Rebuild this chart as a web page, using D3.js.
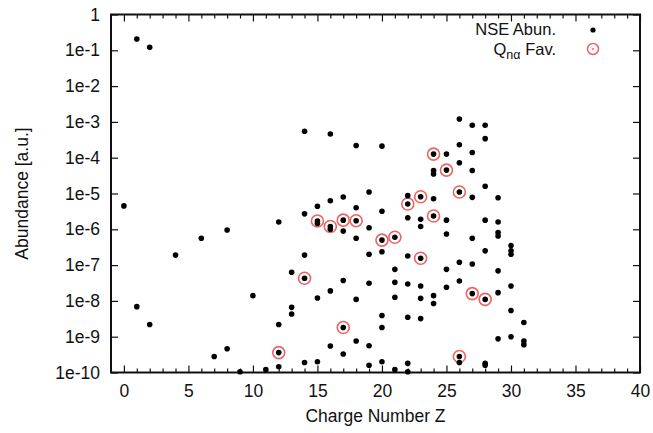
<!DOCTYPE html>
<html>
<head>
<meta charset="utf-8">
<script src="https://cdn.jsdelivr.net/npm/d3@7"></script>
<style>
  html, body { margin: 0; padding: 0; background: #fff; }
  text { font-family: "Liberation Sans", Arial, Helvetica, sans-serif; fill: #111; }
</style>
</head>
<body>
<svg id="chart" width="653" height="433"></svg>
<script>
// ---- Data ----
const nseZ = [
  0,
  1, 1,
  2, 2,
  4,
  6,
  7,
  8, 8,
  9,
  10,
  11,
  12, 12, 12, 12,
  13, 13, 13,
  14, 14, 14, 14, 14,
  15, 15, 15, 15, 15,
  16, 16, 16, 16, 16, 16,
  17, 17, 17, 17, 17, 17,
  18, 18, 18, 18, 18, 18,
  19, 19, 19, 19, 19, 19,
  20, 20, 20, 20, 20, 20, 20,
  21, 21, 21, 21, 21,
  22, 22, 22, 22, 22, 22, 22, 22,
  23, 23, 23, 23, 23, 23, 23,
  24, 24, 24, 24, 24, 24, 24,
  25, 25, 25, 25, 25, 25,
  26, 26, 26, 26, 26, 26, 26, 26,
  27, 27, 27, 27, 27, 27, 27,
  28, 28, 28, 28, 28, 28, 28, 28,
  29, 29, 29, 29, 29, 29, 29,
  30, 30, 30, 30, 30, 30,
  31, 31, 31
];
const nseAbun = [
  4.5e-6,
  0.207, 6.9e-9,
  0.121, 2.2e-9,
  1.9e-7,
  5.6e-7,
  2.8e-10,
  9.6e-7, 4.6e-10,
  1.05e-10,
  1.4e-8,
  1.2e-10,
  1.6e-6, 2.2e-9, 3.6e-10, 1.45e-10,
  6.3e-8, 6.6e-9, 4.3e-9,
  5.5e-4, 2.7e-6, 1.9e-7, 4.3e-8, 1.9e-10,
  4.4e-6, 1.7e-6, 1.45e-6, 1.2e-8, 2.0e-10,
  4.6e-4, 6.3e-6, 1.2e-6, 1.0e-6, 1.9e-8, 5.5e-10,
  8.0e-6, 1.8e-6, 8.9e-7, 3.7e-8, 1.8e-9, 3.3e-10,
  2.2e-4, 4.0e-6, 1.74e-6, 5.6e-7, 1.1e-8, 7.6e-10,
  1.1e-5, 1.1e-6, 2.0e-7, 3.1e-8, 5.6e-10, 1.6e-10,
  2.1e-4, 3.2e-6, 5.0e-7, 2.35e-7, 3.9e-9, 1.8e-9, 2.0e-10,
  6.0e-7, 7.6e-8, 3.3e-8, 1.26e-8, 1.2e-10,
  8.7e-6, 5.1e-6, 2.1e-6, 1.8e-7, 2.96e-8, 3.5e-9, 1.8e-10, 1.05e-10,
  8.1e-6, 1.9e-6, 1.2e-6, 1.55e-7, 2.6e-8, 1.18e-8, 3.2e-9,
  1.26e-4, 4.4e-5, 3.5e-5, 7.1e-6, 2.35e-6, 1.4e-8, 8.5e-9,
  1.26e-4, 4.5e-5, 1.8e-6, 7.4e-7, 7.6e-8, 2.4e-8,
  1.2e-3, 2.3e-4, 7.2e-5, 1.1e-5, 1.2e-7, 3.6e-8, 2.8e-10, 1.9e-10,
  8.1e-4, 1.4e-4, 4.4e-5, 7.8e-6, 5.6e-7, 1.07e-7, 1.6e-8,
  8.1e-4, 3.4e-4, 1.6e-5, 1.8e-6, 2.5e-7, 1.1e-8, 1.8e-10, 1.6e-10,
  7.6e-6, 1.6e-6, 8.1e-7, 6.5e-7, 6.9e-8, 1.7e-8, 8.7e-10,
  3.5e-7, 2.5e-7, 2.0e-7, 2.6e-8, 5.4e-9, 1.0e-9,
  2.5e-9, 7.6e-10, 6.0e-10
];
const favZ = [12, 14, 15, 16, 17, 17, 18, 20, 21, 22, 23, 23, 24, 24, 25, 26, 26, 27, 28];
const favAbun = [3.6e-10, 4.3e-8, 1.7e-6, 1.2e-6, 1.8e-6, 1.8e-9, 1.74e-6, 5.0e-7, 6.0e-7,
                 5.1e-6, 8.1e-6, 1.55e-7, 1.26e-4, 2.35e-6, 4.5e-5, 1.1e-5, 2.8e-10, 1.6e-8, 1.1e-8];

const xMajorTicks = [0, 5, 10, 15, 20, 25, 30, 35, 40];
const yTickValues = [1, 1e-1, 1e-2, 1e-3, 1e-4, 1e-5, 1e-6, 1e-7, 1e-8, 1e-9, 1e-10];
const yTickLabels = ["1", "1e-1", "1e-2", "1e-3", "1e-4", "1e-5", "1e-6", "1e-7", "1e-8", "1e-9", "1e-10"];
const xTitle = "Charge Number Z";
const yTitle = "Abundance [a.u.]";
const legendNse = "NSE Abun.";

// ---- Layout ----
const svg = d3.select("#chart");
const L = 111, R = 640, T = 14.5, B = 372.5;
const x = d3.scaleLinear().domain([-1, 40]).range([L, R]);
const y = d3.scaleLog().domain([1e-10, 1]).range([B, T]);
const xMinor = d3.range(0, 41, 1).filter(v => v % 5 !== 0);
const fontSize = 17.5;
const legendFont = 16.5;

// bottom axis
const xAxisB = d3.axisBottom(x).tickValues(xMajorTicks).tickFormat(d3.format("d")).tickSize(-7).tickPadding(12);
svg.append("g").attr("transform", `translate(0,${B})`).call(xAxisB);
svg.append("g").attr("transform", `translate(0,${B})`).call(d3.axisBottom(x).tickValues(xMinor).tickFormat("").tickSize(-4));
// top axis
svg.append("g").attr("transform", `translate(0,${T})`).call(d3.axisTop(x).tickValues(xMajorTicks).tickFormat("").tickSize(-7));
svg.append("g").attr("transform", `translate(0,${T})`).call(d3.axisTop(x).tickValues(xMinor).tickFormat("").tickSize(-4));
// left axis
const yAxisL = d3.axisLeft(y).tickValues(yTickValues).tickFormat((d, i) => yTickLabels[i]).tickSize(-7).tickPadding(11);
svg.append("g").attr("transform", `translate(${L},0)`).call(yAxisL);
// right axis
svg.append("g").attr("transform", `translate(${R},0)`).call(d3.axisRight(y).tickValues(yTickValues).tickFormat("").tickSize(-7));

svg.selectAll(".domain").remove();
svg.selectAll(".tick line").attr("stroke", "#111").attr("stroke-width", 1.2);
svg.selectAll(".tick text").attr("font-size", fontSize).attr("fill", "#111")
  .attr("font-family", "'Liberation Sans', Arial, sans-serif");

// frame
svg.append("rect").attr("x", L).attr("y", T).attr("width", R - L).attr("height", B - T)
  .attr("fill", "none").attr("stroke", "#111").attr("stroke-width", 2);

// axis titles
svg.append("text").attr("x", (L + R) / 2).attr("y", 422).attr("text-anchor", "middle")
  .attr("font-size", fontSize).text(xTitle);
svg.append("text").attr("transform", `translate(28,${(T + B) / 2}) rotate(-90)`).attr("text-anchor", "middle")
  .attr("font-size", fontSize).text(yTitle);

// data
const nse = nseZ.map((z, i) => ({ z, v: nseAbun[i] }));
const fav = favZ.map((z, i) => ({ z, v: favAbun[i] }));

const red = "#f06262";
svg.append("g").selectAll("circle").data(fav).join("circle")
  .attr("cx", d => x(d.z)).attr("cy", d => y(d.v)).attr("r", 6)
  .attr("fill", "none").attr("stroke", red).attr("stroke-width", 1.6);

svg.append("g").selectAll("circle").data(nse).join("circle")
  .attr("cx", d => x(d.z)).attr("cy", d => y(d.v)).attr("r", 2.8)
  .attr("fill", "#000");

// legend
const lgX = 556, lgSym = 593;
svg.append("text").attr("x", lgX).attr("y", 35).attr("text-anchor", "end")
  .attr("font-size", legendFont).text(legendNse);
svg.append("circle").attr("cx", lgSym).attr("cy", 30).attr("r", 2.6).attr("fill", "#000");
const t2 = svg.append("text").attr("x", lgX).attr("y", 55).attr("text-anchor", "end").attr("font-size", legendFont);
t2.append("tspan").text("Q");
t2.append("tspan").attr("font-size", 12.5).attr("dy", 4).text("nα");
t2.append("tspan").attr("dy", -4).text(" Fav.");
svg.append("circle").attr("cx", lgSym).attr("cy", 49).attr("r", 5.5)
  .attr("fill", "none").attr("stroke", red).attr("stroke-width", 1.5);
svg.append("circle").attr("cx", lgSym).attr("cy", 49).attr("r", 1).attr("fill", red);
</script>
</body>
</html>
